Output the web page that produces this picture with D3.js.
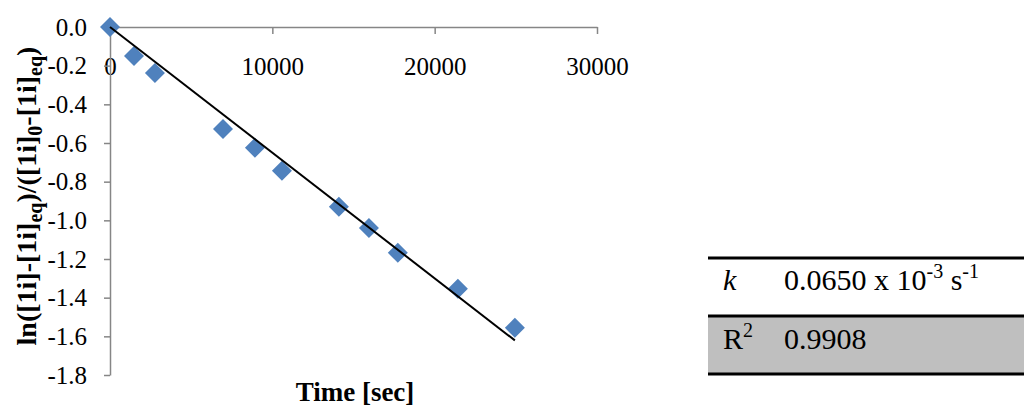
<!DOCTYPE html>
<html lang="en">
<head>
    <meta charset="UTF-8">
    <title>ln plot</title>
    <style>
        body { margin: 0; background: #fff; }
    </style>
</head>
<body>
<div id="chart"></div>
<script src="https://cdn.jsdelivr.net/npm/d3@7"></script>
<script>
    const width = 1024,
        height = 410;
    const serif = "'Liberation Serif', 'Times New Roman', Times, serif";

    // data
    const timeSec = [0, 1480, 2770, 6960, 8930, 10590, 14100, 15950, 17730, 21430, 24940];
    const lnRatio = [0.0, -0.150, -0.238, -0.527, -0.625, -0.744, -0.930, -1.040, -1.168, -1.354, -1.556];
    const xTicks = [0, 10000, 20000, 30000];
    const yTicks = [0.0, -0.2, -0.4, -0.6, -0.8, -1.0, -1.2, -1.4, -1.6, -1.8];
    const kFit = 0.0650e-3;
    const r2Fit = "0.9908";

    let xScale = d3.scaleLinear().domain([0, 30000]).range([110, 597]);
    let yScale = d3.scaleLinear().domain([-1.8, 0]).range([375, 27]);

    let svg = d3.select("#chart")
        .append("svg")
        .attr("width", width)
        .attr("height", height)
        .attr("font-family", serif)
        .style("display", "block");

    let axis = {
        "draw": function() {
            this.xAxis();
            this.yAxis();
            this.titles();
        },
        "xAxis": function() {
            let xAxis = d3.axisBottom(xScale)
                .tickValues(xTicks)
                .tickSizeInner(7)
                .tickSizeOuter(0)
                .tickPadding(18)
                .tickFormat(d3.format("d"));

            let g = svg.append("g")
                .classed("xaxis", true)
                .attr("transform", `translate(0,${yScale(0)})`)
                .call(xAxis)
                .attr("font-family", serif)
                .attr("font-size", null);
            g.select(".domain").attr("stroke", "#868686").attr("stroke-width", 1.5);
            g.selectAll(".tick line").attr("stroke", "#868686").attr("stroke-width", 1.5);
            g.selectAll(".tick text")
                .style("font-family", serif)
                .style("font-size", "25px")
                .attr("fill", "#000")
                .attr("dy", "0.9em");
        },
        "yAxis": function() {
            let yAxis = d3.axisLeft(yScale)
                .tickValues(yTicks)
                .tickSizeInner(6)
                .tickSizeOuter(0)
                .tickPadding(17)
                .tickFormat(d3.format(".1f"));

            let g = svg.append("g")
                .classed("yaxis", true)
                .attr("transform", `translate(${xScale(0)},0)`)
                .call(yAxis)
                .attr("font-family", serif)
                .attr("font-size", null);
            g.select(".domain").attr("stroke", "#868686").attr("stroke-width", 1.5);
            g.selectAll(".tick line").attr("stroke", "#868686").attr("stroke-width", 1.5);
            g.selectAll(".tick text")
                .style("font-family", serif)
                .style("font-size", "25px")
                .attr("fill", "#000")
                .text(d => d.toFixed(1));
        },
        "titles": function() {
            svg.append("text")
                .attr("x", 355)
                .attr("y", 401)
                .attr("text-anchor", "middle")
                .style("font-family", serif)
                .style("font-size", "27px")
                .style("font-weight", "bold")
                .text("Time [sec]");

            let yt = svg.append("text")
                .attr("transform", "translate(36,196) rotate(-90)")
                .attr("text-anchor", "middle")
                .style("font-family", serif)
                .style("font-size", "28px")
                .style("font-weight", "bold");
            let parts = [
                ["ln([1i]-[1i]", false], ["eq", true], [")/([1i]", false], ["0", true],
                ["-[1i]", false], ["eq", true], [")", false]
            ];
            let prevSub = false;
            parts.forEach(p => {
                let dy = p[1] ? (prevSub ? "0" : "6") : (prevSub ? "-6" : "0");
                yt.append("tspan")
                    .attr("dy", dy)
                    .style("font-size", p[1] ? "20px" : "28px")
                    .text(p[0]);
                prevSub = p[1];
            });
        }
    };

    let chart = {
        "draw": function() {
            this.points();
            this.trend();
        },
        "trend": function() {
            let ends = [0, d3.max(timeSec)];
            let line = d3.line()
                .x(d => xScale(d))
                .y(d => yScale(-kFit * d));
            svg.append("path")
                .datum(ends)
                .attr("d", line)
                .attr("fill", "none")
                .attr("stroke", "#000")
                .attr("stroke-width", 2);
        },
        "points": function() {
            let sym = d3.symbol().type(d3.symbolSquare).size(200);
            svg.append("g")
                .classed("points", true)
                .selectAll("path")
                .data(timeSec)
                .join("path")
                .attr("d", sym)
                .attr("transform", (d, i) => `translate(${xScale(d)},${yScale(lnRatio[i])}) rotate(45)`)
                .attr("fill", "#4F81BD");
        }
    };

    let table = {
        "draw": function() {
            let t = svg.append("g").classed("table", true);
            t.append("rect")
                .attr("x", 708).attr("y", 316)
                .attr("width", width - 708).attr("height", 58)
                .attr("fill", "#BFBFBF");
            [258, 316, 374].forEach(y => {
                t.append("line")
                    .attr("x1", 708).attr("x2", width)
                    .attr("y1", y).attr("y2", y)
                    .attr("stroke", "#000")
                    .attr("stroke-width", 3);
            });

            t.append("text")
                .attr("x", 723).attr("y", 290)
                .style("font-family", serif)
                .style("font-size", "30px")
                .style("font-style", "italic")
                .text("k");
            let kv = t.append("text")
                .attr("x", 784).attr("y", 290)
                .style("font-family", serif)
                .style("font-size", "30px");
            let mant = (kFit * 1000).toFixed(4);
            kv.append("tspan").text(mant + " x 10");
            kv.append("tspan").attr("dy", "-12").style("font-size", "20px").text("-3");
            kv.append("tspan").attr("dy", "12").text(" s");
            kv.append("tspan").attr("dy", "-12").style("font-size", "20px").text("-1");

            let rl = t.append("text")
                .attr("x", 723).attr("y", 349)
                .style("font-family", serif)
                .style("font-size", "30px");
            rl.append("tspan").text("R");
            rl.append("tspan").attr("dy", "-12").style("font-size", "20px").text("2");
            t.append("text")
                .attr("x", 784).attr("y", 349)
                .style("font-family", serif)
                .style("font-size", "30px")
                .text(r2Fit);
        }
    };

    axis.draw();
    chart.draw();
    table.draw();
</script>
</body>
</html>
